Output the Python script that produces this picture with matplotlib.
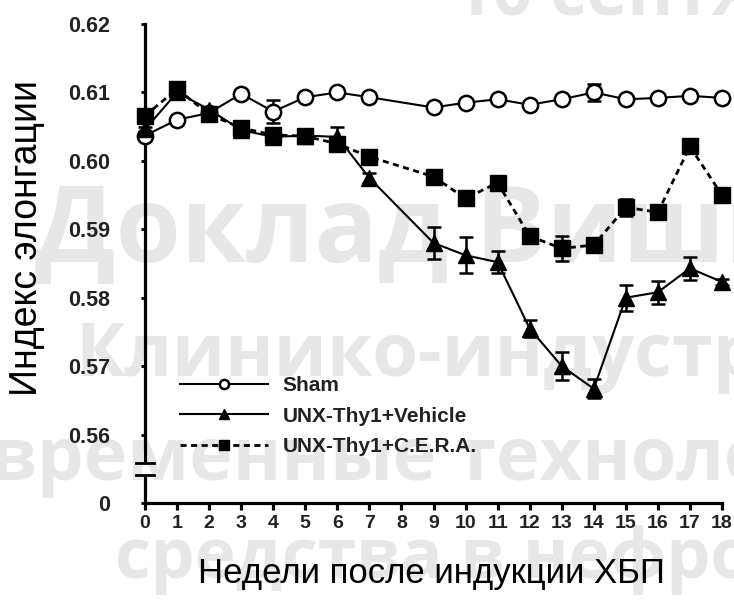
import matplotlib
matplotlib.use("Agg")
import matplotlib.pyplot as plt

# данные
weeks = [0, 1, 2, 3, 4, 5, 6, 7, 9, 10, 11, 12, 13, 14, 15, 16, 17, 18]
sham = [0.6037, 0.6060, 0.6070, 0.6098, 0.6072, 0.6093, 0.6100, 0.6093, 0.6078,
        0.6085, 0.6090, 0.6082, 0.6090, 0.6100, 0.6090, 0.6092, 0.6095, 0.6092]
sham_err = [0.0003, 0.0004, 0.0003, 0.0004, 0.0017, 0.0003, 0.0004, 0.0004, 0.0004,
            0.0004, 0.0004, 0.0004, 0.0004, 0.0013, 0.0004, 0.0004, 0.0004, 0.0004]
vehicle = [0.6046, 0.6100, 0.6075, 0.6045, 0.6035, 0.6037, 0.6035, 0.5975, 0.5880,
           0.5862, 0.5852, 0.5755, 0.5700, 0.5667, 0.5800, 0.5808, 0.5843, 0.5823]
vehicle_err = [0.0004, 0.0004, 0.0004, 0.0005, 0.0006, 0.0005, 0.0014, 0.0007, 0.0023,
               0.0026, 0.0016, 0.0013, 0.0020, 0.0014, 0.0019, 0.0017, 0.0017, 0.0005]
cera = [0.6066, 0.6105, 0.6068, 0.6048, 0.6038, 0.6036, 0.6025, 0.6006, 0.5977,
        0.5945, 0.5968, 0.5890, 0.5872, 0.5877, 0.5932, 0.5925, 0.6021, 0.5950]
cera_err = [0.0008, 0.0005, 0.0005, 0.0005, 0.0006, 0.0005, 0.0006, 0.0006, 0.0005,
            0.0008, 0.0005, 0.0008, 0.0018, 0.0007, 0.0012, 0.0006, 0.0006, 0.0008]

xticks = list(range(0, 19))
yticks = [0.55, 0.56, 0.57, 0.58, 0.59, 0.60, 0.61, 0.62]
ytick_labels = ["0", "0.56", "0.57", "0.58", "0.59", "0.60", "0.61", "0.62"]
labels = ["Sham", "UNX-Thy1+Vehicle", "UNX-Thy1+C.E.R.A."]

# водяной знак слайда
wm = ["10 сентября", "Доклад Вишневского", "Клинико-индустриальный",
      "временные технологии", "средства в нефрологии"]

fig = plt.figure(figsize=(7.34, 6), dpi=100)
wm_color = "#e7e7e7"
wm_pos = [(453, 15, 50), (35, 262, 76), (75, 376, 53), (-10, 480, 53), (115, 578, 50)]
for txt, (px, py, fs) in zip(wm, wm_pos):
    fig.text(px/734, 1 - py/600, txt, fontsize=fs, fontweight="bold", family="Open Sans",
             color=wm_color, va="baseline", zorder=-5)

ax = fig.add_axes([145/734, 97/600, 577/734, 479/600])
ax.set_facecolor("none")

lw_axis = 2.3
ms = 11

# ошибки
for y, e in [(sham, sham_err), (vehicle, vehicle_err), (cera, cera_err)]:
    ax.errorbar(weeks, y, yerr=e, fmt="none", ecolor="black", elinewidth=1.8,
                capsize=5, capthick=1.8, clip_on=False, zorder=3)

ax.plot(weeks, sham, "-", color="black", lw=1.5, marker="o", ms=ms, mfc="white",
        mec="black", mew=1.8, label=labels[0], clip_on=False, zorder=4)
ax.plot(weeks, vehicle, "-", color="black", lw=1.5, marker="^", ms=ms, mfc="black",
        mec="black", label=labels[1], clip_on=False, zorder=5)
ax.plot(weeks, cera, color="black", lw=2, linestyle=(0, (2.2, 1.6)), marker="s", ms=ms + 0.5,
        mfc="black", mec="black", label=labels[2], clip_on=False, zorder=6)

ax.set_xlim(0, 18)
ax.set_ylim(0.55, 0.62)
ax.set_xticks(xticks)
ax.set_yticks(yticks)
ax.set_yticklabels(ytick_labels)

for s in ["top", "right"]:
    ax.spines[s].set_visible(False)
for s in ["left", "bottom"]:
    ax.spines[s].set_linewidth(lw_axis)

ax.tick_params(axis="x", direction="out", length=5, width=lw_axis, pad=4)
ax.tick_params(axis="y", direction="out", length=3, width=2, pad=22)
for lab in ax.get_xticklabels():
    lab.set_family("Liberation Sans")
    lab.set_fontweight("bold")
    lab.set_fontsize(14)
    lab.set_color("#222222")
for lab in ax.get_yticklabels():
    lab.set_family("Liberation Sans")
    lab.set_fontweight("bold")
    lab.set_fontsize(15.5)
    lab.set_color("#222222")

# разрыв оси
ax.plot([-0.28, 0.28], [0.5558, 0.5558], color="black", lw=2, clip_on=False, zorder=7)
ax.plot([-0.28, 0.28], [0.5541, 0.5541], color="black", lw=2, clip_on=False, zorder=7)
ax.plot([0, 0], [0.5543, 0.5556], color="white", lw=4, clip_on=False, zorder=6.5)

leg = ax.legend(loc="upper left", bbox_to_anchor=(0.061, 0.265), frameon=False,
                handlelength=4.2, handletextpad=0.7, labelspacing=0.55, borderpad=0,
                borderaxespad=0, markerscale=0.6,
                prop={"family": "Liberation Sans", "weight": "bold", "size": 15})
for t in leg.get_texts():
    t.set_color("#222222")

fig.text(27/734, 1 - 238/600, "Индекс элонгации", rotation=90, fontsize=27,
         family="Liberation Sans", ha="center", va="center")
fig.text(431/734, 1 - 574/600, "Недели после индукции ХБП", fontsize=25,
         family="Liberation Sans", ha="center", va="center")

fig.savefig("out.png", dpi=100)
